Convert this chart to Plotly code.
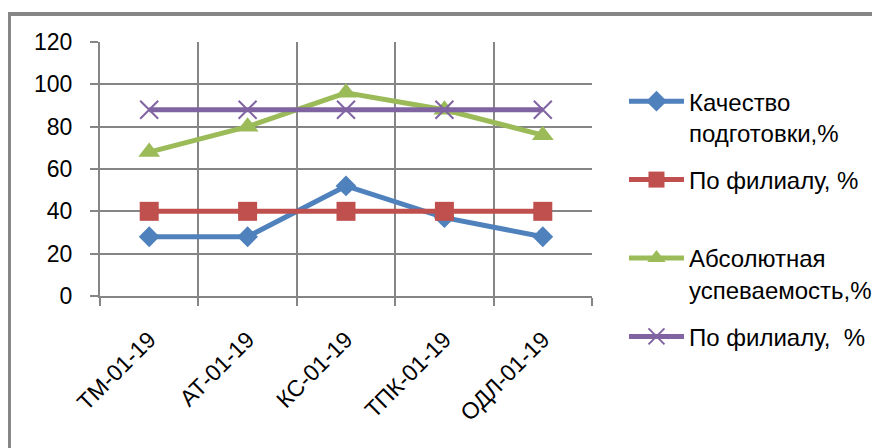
import plotly.graph_objects as go

categories = ["ТМ-01-19", "АТ-01-19", "КС-01-19", "ТПК-01-19", "ОДЛ-01-19"]
kachestvo = [28, 28, 52, 37, 28]
po_filialu_k = [40, 40, 40, 40, 40]
absolutnaya = [68, 80, 96, 88, 76]
po_filialu_a = [88, 88, 88, 88, 88]
y_ticks = [0, 20, 40, 60, 80, 100, 120]

names = ["Качество<br>подготовки,%", "По филиалу, %<br>\u00a0",
         "Абсолютная<br>успеваемость,%", "По филиалу,\u00a0 %<br>\u00a0"]

FONT = "Liberation Sans"
GRID = "#858585"

fig = go.Figure()
fig.add_trace(go.Scatter(x=categories, y=kachestvo, name=names[0], legendgroup="a",
                         mode="lines+markers",
                         line=dict(color="#4F81BD", width=5),
                         marker=dict(symbol="diamond", size=16, color="#4F81BD")))
fig.add_trace(go.Scatter(x=categories, y=po_filialu_k, name=names[1], legendgroup="b",
                         mode="lines+markers",
                         line=dict(color="#C0504D", width=5),
                         marker=dict(symbol="square", size=19, color="#C0504D")))
fig.add_trace(go.Scatter(x=categories, y=absolutnaya, name=names[2], legendgroup="c",
                         mode="lines+markers",
                         line=dict(color="#9BBB59", width=5),
                         marker=dict(symbol="triangle-up", size=19, color="#9BBB59")))
fig.add_trace(go.Scatter(x=categories, y=po_filialu_a, name=names[3], legendgroup="d",
                         mode="lines+markers",
                         line=dict(color="#8064A2", width=5),
                         marker=dict(symbol="x-thin", size=18, color="#8064A2",
                                     line=dict(color="#8064A2", width=2))))

fig.update_layout(
    width=872, height=440,
    margin=dict(l=92, r=288, t=34, b=152, autoexpand=False),
    paper_bgcolor="white", plot_bgcolor="white",
    font=dict(family=FONT, size=23, color="black"),
    showlegend=True,
    legend=dict(x=1.065, xanchor="left", y=0.854, yanchor="top",
                valign="top", tracegroupgap=13, itemwidth=55, maxheight=600,
                font=dict(family=FONT, size=24, color="black"),
                bgcolor="rgba(0,0,0,0)"),
    xaxis=dict(type="category", range=[-0.5, 4.5], tickson="boundaries",
               showgrid=True, gridcolor=GRID, gridwidth=2,
               showline=True, linecolor=GRID, linewidth=2,
               ticks="outside", ticklen=8, tickwidth=2, tickcolor=GRID,
               tickangle=-45, ticklabelstandoff=19,
               tickfont=dict(family=FONT, size=23, color="black")),
    yaxis=dict(range=[0, 120], tickvals=y_ticks,
               showgrid=True, gridcolor=GRID, gridwidth=2,
               showline=True, linecolor=GRID, linewidth=2, zeroline=False,
               ticks="outside", ticklen=8, tickwidth=2, tickcolor=GRID,
               ticklabelstandoff=13,
               tickfont=dict(family=FONT, size=23, color="black")),
    shapes=[dict(type="rect", xref="paper", yref="paper",
                 x0=-0.185, x1=1.8, y0=-0.8, y1=1.1102,
                 line=dict(color="#868686", width=4), fillcolor="rgba(0,0,0,0)",
                 layer="above")],
)

fig.write_html("out.html")
